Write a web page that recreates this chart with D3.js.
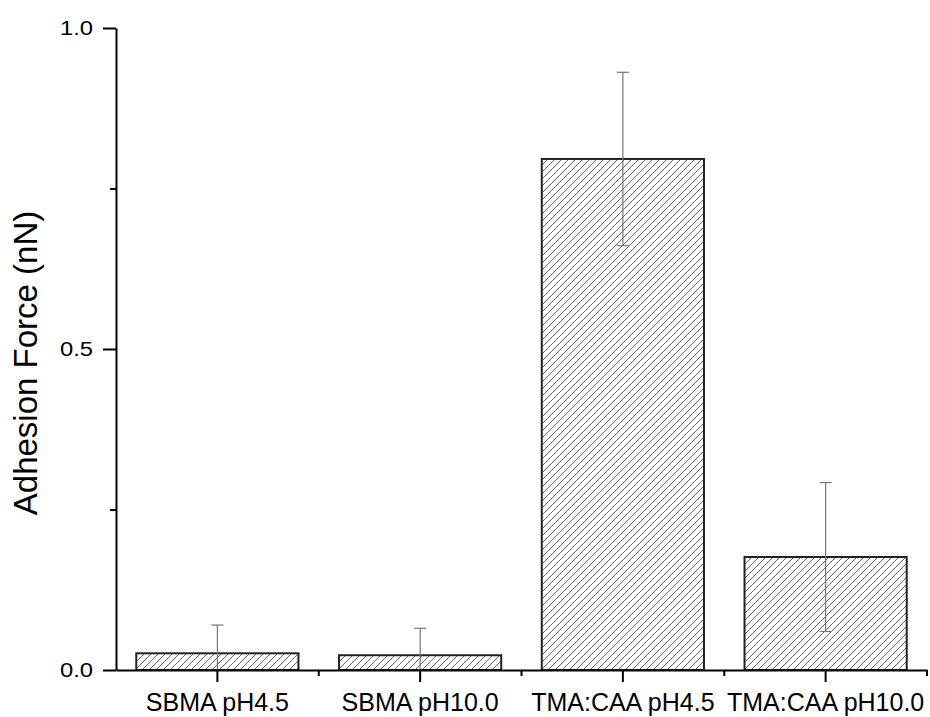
<!DOCTYPE html>
<html>
<head>
<meta charset="utf-8">
<script src="https://cdn.jsdelivr.net/npm/d3@7"></script>
<style>
  body { margin: 0; background: #fff; }
  text { font-family: "Liberation Sans", Arial, sans-serif; fill: #000; }
</style>
</head>
<body>
<div id="chart"></div>
<script>
var categories = ["SBMA pH4.5", "SBMA pH10.0", "TMA:CAA pH4.5", "TMA:CAA pH10.0"];
var means = [0.026, 0.023, 0.796, 0.176];
var errors = [0.044, 0.042, 0.135, 0.116];
var majorTicks = [0.0, 0.5, 1.0];
var minorTicks = [0.25, 0.75];

var width = 930, height = 717;
var plotLeft = 116, plotRight = 927, plotTop = 28, plotBottom = 670;

var svg = d3.select("#chart")
            .append("svg")
            .attr("width", width)
            .attr("height", height);

// hatch pattern for the bars
var pat = svg.append("defs").append("pattern")
            .attr("id", "hatch")
            .attr("patternUnits", "userSpaceOnUse")
            .attr("width", 7)
            .attr("height", 7);
pat.append("rect").attr("width", 7).attr("height", 7).attr("fill", "#fff");
pat.append("path")
   .attr("d", "M-1,1 l2,-2 M0,7 l7,-7 M6,8 l2,-2")
   .attr("stroke", "#555")
   .attr("stroke-width", 0.9);

var x = d3.scaleBand()
          .domain(categories)
          .range([plotLeft, plotRight])
          .paddingInner(0.2)
          .paddingOuter(0.1);

var y = d3.scaleLinear()
          .domain([0, 1])
          .range([plotBottom, plotTop]);

var data = categories.map((c, i) => ({name: c, mean: means[i], err: errors[i]}));

// bars
svg.selectAll(".bar")
   .data(data)
   .enter()
   .append("rect")
   .attr("class", "bar")
   .attr("x", d => x(d.name))
   .attr("y", d => y(d.mean))
   .attr("width", x.bandwidth())
   .attr("height", d => y(0) - y(d.mean))
   .attr("fill", "url(#hatch)")
   .attr("stroke", "#222")
   .attr("stroke-width", 2);

// error bars
var eb = svg.selectAll(".err")
            .data(data)
            .enter()
            .append("g")
            .attr("class", "err")
            .attr("stroke", "#777")
            .attr("stroke-width", 1.2);

eb.append("line")
  .attr("x1", d => x(d.name) + x.bandwidth() / 2)
  .attr("x2", d => x(d.name) + x.bandwidth() / 2)
  .attr("y1", d => y(d.mean + d.err))
  .attr("y2", d => y(Math.max(0, d.mean - d.err)));

eb.append("line")
  .attr("x1", d => x(d.name) + x.bandwidth() / 2 - 6)
  .attr("x2", d => x(d.name) + x.bandwidth() / 2 + 6)
  .attr("y1", d => y(d.mean + d.err))
  .attr("y2", d => y(d.mean + d.err));

eb.filter(d => d.mean - d.err > 0)
  .append("line")
  .attr("x1", d => x(d.name) + x.bandwidth() / 2 - 6)
  .attr("x2", d => x(d.name) + x.bandwidth() / 2 + 6)
  .attr("y1", d => y(d.mean - d.err))
  .attr("y2", d => y(d.mean - d.err));

// y axis
var yAxis = svg.append("g")
               .attr("transform", "translate(" + plotLeft + ",0)")
               .call(d3.axisLeft(y).tickValues(majorTicks).tickFormat(d3.format(".1f"))
                       .tickSize(13).tickSizeOuter(0).tickPadding(10));
yAxis.select(".domain").attr("stroke-width", 2);
yAxis.selectAll(".tick line").attr("stroke-width", 2);
// labels are a bit wide in the original, so stretch them horizontally
var stretch = 1.22;
yAxis.selectAll(".tick text")
     .style("font-size", "19.5px")
     .attr("x", -23 / stretch)
     .attr("transform", "scale(" + stretch + ",1)");

var yMinor = svg.append("g")
                .attr("transform", "translate(" + plotLeft + ",0)")
                .call(d3.axisLeft(y).tickValues(minorTicks).tickSize(6).tickFormat(""));
yMinor.select(".domain").remove();
yMinor.selectAll(".tick line").attr("stroke-width", 2);

// x axis
var xAxis = svg.append("g")
               .attr("transform", "translate(0," + plotBottom + ")")
               .call(d3.axisBottom(x).tickSize(12).tickSizeOuter(0).tickPadding(11));
xAxis.select(".domain").attr("stroke-width", 2);
xAxis.selectAll(".tick line").attr("stroke-width", 2);
xAxis.selectAll(".tick text").style("font-size", "25px");

// minor ticks on category boundaries
var bounds = d3.range(1, categories.length + 1).map(i => plotLeft + x.step() * (x.paddingOuter() + i) - x.step() * x.paddingInner() / 2);
svg.append("g")
   .selectAll("line")
   .data(bounds)
   .enter()
   .append("line")
   .attr("x1", d => d).attr("x2", d => d)
   .attr("y1", plotBottom).attr("y2", plotBottom + 6)
   .attr("stroke", "#000")
   .attr("stroke-width", 2);

// y axis title
svg.append("text")
   .attr("transform", "translate(37,363) rotate(-90)")
   .attr("text-anchor", "middle")
   .style("font-size", "33px")
   .text("Adhesion Force (nN)");
</script>
</body>
</html>
